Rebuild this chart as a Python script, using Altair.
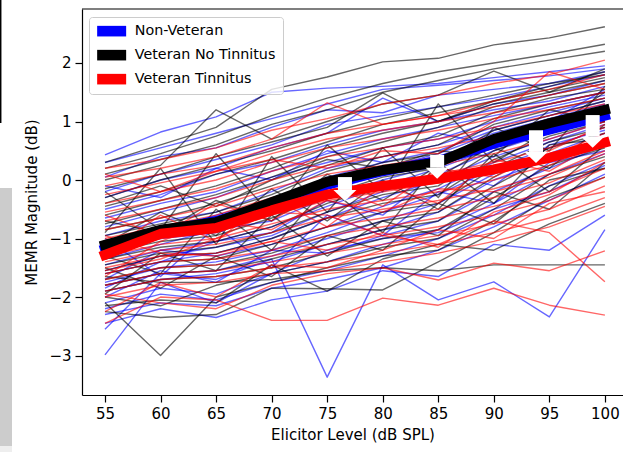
import altair as alt
import pandas as pd

levels = [55, 60, 65, 70, 75, 80, 85, 90, 95, 100]
groups = ["Non-Veteran", "Veteran No Tinnitus", "Veteran Tinnitus"]
colors = ["#0000ff", "#000000", "#ff0000"]

non_veteran = [
    [0.43, 0.82, 1.08, 1.50, 1.57, 1.60, 1.65, 1.75, 1.85, 1.95],
    [0.30, 0.55, 0.80, 1.05, 1.30, 1.55, 1.62, 1.70, 1.78, 1.90],
    [0.05, 0.40, 0.55, 0.90, 1.20, 1.15, 1.45, 1.55, 1.65, 1.85],
    [-0.20, 0.10, 0.35, 0.60, 0.95, 1.10, 1.25, 1.40, 1.60, 1.80],
    [-0.30, 0.00, 0.20, 0.55, 0.80, 1.40, 1.00, 1.30, 1.45, 1.70],
    [-0.50, -0.25, 0.10, 0.30, 0.60, 0.85, 1.00, 1.20, 1.35, 1.60],
    [-0.65, -0.40, -0.20, 0.15, 0.45, 0.70, 0.90, 1.10, 1.30, 1.50],
    [-0.80, -0.55, -0.30, 0.05, 0.30, 0.55, 0.70, 1.00, 1.25, 1.45],
    [-0.95, -0.70, -0.55, -0.20, 0.20, 0.40, 0.60, 0.90, 1.15, 1.40],
    [-1.05, -0.90, -0.60, -0.35, 0.05, 0.30, 0.50, 0.85, 1.10, 1.35],
    [-1.15, -0.85, -0.75, -0.45, -0.10, 0.20, 0.45, 0.80, 1.05, 1.30],
    [-1.25, -1.00, -0.90, -0.55, -0.20, 0.10, 0.35, 0.75, 1.00, 1.20],
    [-1.35, -1.10, -0.85, -0.70, -0.30, 0.00, 0.25, 0.65, 0.95, 1.15],
    [-1.45, -1.20, -1.05, -0.80, -0.45, -0.10, 0.20, 0.55, 0.85, 1.10],
    [-1.55, -1.30, -1.15, -0.95, -0.55, -0.20, 0.10, 0.50, 0.80, 1.05],
    [-1.60, -1.40, -1.25, -1.00, -0.65, -0.30, 0.00, 0.40, 0.70, 1.00],
    [-1.70, -1.20, -1.30, -1.10, -0.80, -0.45, -0.15, 0.30, 0.65, 0.95],
    [-1.75, -1.50, -1.40, -1.20, -0.90, -0.55, -0.25, 0.20, 0.55, 0.90],
    [-1.80, -1.60, -1.55, -1.30, -1.00, -0.70, -0.40, 0.10, 0.45, 0.80],
    [-1.90, -1.70, -1.60, -1.40, -1.10, -0.85, -0.55, 0.00, 0.35, 0.70],
    [-2.00, -1.55, -1.75, -1.20, -1.25, -0.95, -0.70, -0.20, 0.20, 0.60],
    [-2.10, -1.85, -1.95, -1.60, -1.40, -1.10, -0.85, -0.40, 0.10, 0.45],
    [-2.20, -1.95, -2.05, -1.75, -1.55, -1.30, -1.00, -0.60, -0.10, 0.30],
    [-2.30, -2.10, -2.15, -1.85, -1.70, -1.50, -1.20, -0.80, -0.35, 0.10],
    [-2.55, -1.60, -1.70, -1.35, -3.37, -1.45, -2.05, -1.74, -2.34, -0.85],
    [-2.99, -1.75, -2.10, -1.60, -1.20, -1.00, -0.90, -0.50, -0.20, 0.25],
    [-0.10, -0.30, 0.20, 0.00, 0.50, 0.30, 0.80, 0.60, 1.00, 1.55],
    [-1.00, -1.65, -0.80, -1.50, -0.60, -0.95, -0.20, -0.40, 0.30, 0.50],
    [-1.85, -1.40, -1.05, -0.90, -0.35, -0.60, 0.15, -0.10, 0.60, 0.85],
    [-2.45, -2.20, -2.35, -2.05, -1.90, -1.55, -1.65, -1.10, -1.20, -0.60],
]

veteran_no_tinnitus = [
    [0.30, 0.60, 0.90, 1.55, 1.76, 2.02, 2.08, 2.31, 2.43, 2.62],
    [0.20, 0.45, 0.75, 1.10, 1.40, 1.65, 1.85, 2.00, 2.15, 2.32],
    [0.10, 0.35, 0.60, 0.95, 1.20, 1.50, 1.70, 1.90, 2.05, 2.20],
    [0.00, 0.25, 1.20, 0.70, 1.00, 1.30, 1.45, 1.86, 1.50, 1.90],
    [-0.15, 0.10, 0.40, 0.65, 0.90, 1.49, 1.00, 1.35, 1.60, 1.85],
    [-0.30, 0.00, 0.25, 0.50, 0.80, 1.05, 1.25, 1.45, 1.65, 1.80],
    [-0.45, -0.20, 0.10, 0.35, 0.65, 0.95, 1.15, 1.35, 1.55, 1.75],
    [-0.60, -0.35, -0.10, 0.20, 0.55, 0.80, 1.00, 1.30, 1.50, 1.70],
    [-0.75, -0.50, -0.25, 0.05, 0.40, 0.65, 0.90, 1.25, 1.45, 1.65],
    [-0.85, -0.65, -0.40, -0.10, 0.25, 0.55, 0.75, 1.15, 1.40, 1.55],
    [-0.95, -0.75, -0.55, -0.25, 0.15, 0.40, 0.60, 1.05, 1.30, 1.50],
    [-1.05, -0.85, -0.70, -0.40, 0.00, 0.30, 0.45, 0.95, 1.20, 1.40],
    [-1.15, -0.95, -0.85, -0.55, -0.15, 0.15, 0.30, 0.85, 1.10, 1.35],
    [-1.25, -1.05, -0.95, -0.65, -0.25, 0.05, 0.20, 0.75, 1.05, 1.25],
    [-1.35, -1.15, -1.05, -0.80, -0.40, -0.10, 0.05, 0.60, 0.95, 1.20],
    [-1.45, -1.25, -1.15, -0.90, -0.55, -0.25, -0.10, 0.50, 0.85, 1.10],
    [-1.55, -1.30, -1.25, -1.00, -0.65, -0.40, -0.25, 0.35, 0.75, 1.00],
    [-1.60, -1.40, -1.35, -1.10, -0.80, -0.55, -0.40, 0.20, 0.65, 0.90],
    [-1.70, -1.50, -1.45, -1.25, -0.95, -0.70, -0.55, 0.05, 0.55, 0.80],
    [-1.80, -1.60, -1.55, -1.35, -1.10, -0.85, -0.70, -0.10, 0.40, 0.70],
    [-1.90, -1.70, -1.65, -1.50, -1.25, -1.00, -0.85, -0.30, 0.25, 0.55],
    [-2.00, -2.15, -1.80, -1.60, -1.40, -1.15, -1.00, -0.50, 0.10, 0.40],
    [-2.10, -3.00, -2.00, -1.75, -1.50, -1.30, -1.20, -0.70, -0.10, 0.20],
    [-2.25, -2.35, -2.30, -1.85, -1.86, -1.88, -1.40, -0.90, -0.30, 0.05],
    [-1.65, -1.75, -1.75, -1.70, -1.55, -1.50, -1.55, -1.45, -1.45, -1.45],
    [-0.90, 0.20, -1.10, 0.40, -0.55, 0.55, -0.30, 0.90, 0.50, 1.60],
    [-0.20, -0.85, 0.45, -0.60, 0.60, -0.20, 1.30, 0.30, 0.85, 1.50],
    [-1.95, -1.25, -1.55, -0.60, -1.30, -0.70, -0.95, -0.20, -0.50, 0.30],
    [-0.40, -0.10, -0.45, 0.00, 0.35, 0.20, 0.50, 0.40, 1.20, 1.00],
    [-1.30, -1.60, -0.50, -1.20, -0.10, -0.90, 0.30, -0.40, 0.60, 0.70],
    [-2.15, -2.05, -2.10, -1.45, -1.90, -1.35, -1.10, -1.20, -0.75, -0.40],
    [-0.70, -0.90, -0.35, -0.70, 0.10, -0.35, 0.25, 0.55, 0.20, 0.95],
    [-1.10, -0.55, -0.95, -0.15, -0.70, 0.00, -0.50, 0.45, -0.20, 0.60],
    [-1.50, -1.85, -1.30, -1.65, -0.95, -1.20, -0.40, -0.75, 0.00, 0.20],
]

veteran_tinnitus = [
    [0.20, 0.35, 0.55, 0.85, 1.05, 1.30, 1.45, 1.65, 1.80, 2.05],
    [0.05, 0.20, 0.40, 0.70, 1.32, 0.95, 1.10, 1.35, 1.55, 1.80],
    [-0.10, 0.10, 0.25, 0.55, 0.80, 0.95, 1.10, 1.25, 1.45, 1.65],
    [-0.25, -0.05, 0.15, 0.45, 0.70, 0.85, 1.00, 1.15, 1.30, 1.50],
    [-0.40, -0.20, 0.00, 0.30, 0.55, 0.70, 0.85, 1.05, 1.20, 1.40],
    [-0.55, -0.35, -0.15, 0.15, 0.40, 0.55, 0.70, 0.90, 1.10, 1.30],
    [-0.70, -0.50, -0.30, 0.00, 0.25, 0.40, 0.55, 0.75, 1.00, 1.20],
    [-0.85, -0.65, -0.45, -0.15, 0.10, 0.25, 0.40, 0.60, 0.85, 1.10],
    [-1.00, -0.80, -0.60, -0.30, -0.05, 0.10, 0.25, 0.45, 0.70, 1.00],
    [-1.10, -0.90, -0.75, -0.45, -0.20, -0.05, 0.10, 0.30, 0.55, 0.90],
    [-1.20, -1.00, -0.90, -0.60, -0.35, -0.20, -0.05, 0.15, 0.40, 0.80],
    [-1.30, -1.10, -1.00, -0.75, -0.50, -0.35, -0.20, 0.00, 0.25, 0.65],
    [-1.40, -1.20, -1.10, -0.90, -0.65, -0.50, -0.35, -0.15, 0.10, 0.50],
    [-1.50, -1.30, -1.25, -1.05, -0.80, -0.65, -0.50, -0.30, -0.05, 0.35],
    [-1.60, -1.40, -1.35, -1.20, -0.95, -0.80, -0.65, -0.45, -0.20, 0.20],
    [-1.70, -1.50, -1.45, -1.30, -1.10, -0.95, -0.80, -0.60, -0.35, 0.05],
    [-1.80, -1.60, -1.55, -1.40, -1.25, -1.10, -0.95, -0.75, -0.50, -0.10],
    [-1.90, -1.70, -1.65, -1.50, -1.40, -1.25, -1.10, -0.90, -0.65, -0.30],
    [-2.00, -1.80, -1.75, -1.60, -1.55, -1.40, -1.25, -1.05, -0.80, -0.45],
    [-2.45, -2.00, -2.05, -2.40, -2.40, -2.02, -2.14, -1.85, -2.14, -2.31],
    [-1.95, -2.10, -2.20, -1.80, -1.60, -1.50, -1.71, -1.42, -1.55, -1.21],
    [-1.55, -1.35, -1.00, -0.55, -0.60, -0.95, -1.10, -0.70, -0.90, -1.74],
    [-0.60, -0.95, -0.40, -0.70, -0.10, -0.45, 0.20, 0.05, 0.50, 0.95],
    [-1.25, -0.60, -1.05, -0.30, -0.80, -0.10, -0.40, 0.35, 0.15, 0.70],
    [-2.25, -1.75, -2.00, -1.45, -1.50, -1.20, -0.85, -1.00, -0.40, -0.20],
    [0.10, -0.20, 0.15, 0.35, 0.20, 0.50, 0.45, 1.00, 1.85, 1.55],
    [-0.95, -1.25, -1.30, -1.05, -1.20, -0.90, -1.15, -0.55, -0.25, 0.30],
    [-1.65, -1.05, -0.70, -0.85, -0.35, -0.55, -0.15, -0.20, 0.05, 0.45],
]

mean_non_veteran = [-1.18, -0.88, -0.70, -0.43, -0.08, 0.15, 0.33, 0.62, 0.86, 1.10]
mean_veteran_no_tinnitus = [-1.11, -0.85, -0.72, -0.38, -0.03, 0.17, 0.30, 0.70, 0.97, 1.20]
mean_veteran_tinnitus = [-1.28, -0.92, -0.82, -0.52, -0.25, -0.10, 0.02, 0.18, 0.38, 0.64]

arrow_level = [76.6, 84.9, 93.8, 98.9]
arrow_top = [0.05, 0.43, 0.85, 1.11]
arrow_base = [-0.17, 0.21, 0.48, 0.74]
arrow_head = [-0.264, 0.116, 0.386, 0.646]

# ---- build tables ----
rows = []
for gname, lines, prefix in [
    (groups[0], non_veteran, "B"),
    (groups[1], veteran_no_tinnitus, "K"),
    (groups[2], veteran_tinnitus, "R"),
]:
    for i, vals in enumerate(lines):
        for lv, v in zip(levels, vals):
            rows.append({"level": lv, "value": v, "group": gname, "id": f"{prefix}{i:02d}"})
indiv = pd.DataFrame(rows)

mrows = []
for gname, vals in zip(groups, [mean_non_veteran, mean_veteran_no_tinnitus, mean_veteran_tinnitus]):
    for lv, v in zip(levels, vals):
        mrows.append({"level": lv, "value": v, "group": gname})
means = pd.DataFrame(mrows)

arrows = pd.DataFrame({"level": arrow_level, "top": arrow_top, "base": arrow_base, "head": arrow_head})

W, H = 541, 386
FONT = "DejaVu Sans"
FS = 15

xscale = alt.Scale(domain=[52.93, 101.63], nice=False, zero=False)
yscale = alt.Scale(domain=[-3.675, 2.923], nice=False, zero=False)
cscale = alt.Scale(domain=groups, range=colors)

# 29 x 10.6 px rectangle when the symbol size is 100 (scale = sqrt(100)/2 = 5)
RECT = "M-2.9,-1.06L2.9,-1.06L2.9,1.06L-2.9,1.06Z"

legend = alt.Legend(
    title=None, orient="none", legendX=7, legendY=8,
    symbolType=RECT, symbolSize=100, symbolStrokeWidth=0, symbolOpacity=1,
    labelFontSize=14.3, labelFont=FONT, labelColor="black",
    padding=7, rowPadding=9, symbolOffset=8.5, labelOffset=16,
    fillColor="rgba(255,255,255,0.8)", strokeColor="#cccccc", cornerRadius=3,
)

# filled points pushed out of the clipped plot area; they only provide the legend
legend_layer = alt.Chart(means).transform_calculate(
    off="datum.value + 100"
).mark_point(filled=True, opacity=1, clip=True, shape=RECT).encode(
    x=alt.X("level:Q", scale=xscale,
            axis=alt.Axis(values=levels, title="Elicitor Level (dB SPL)", format="d")),
    y=alt.Y("off:Q", scale=yscale,
            axis=alt.Axis(values=[-3, -2, -1, 0, 1, 2], title="MEMR Magnitude (dB)", format="d")),
    color=alt.Color("group:N", scale=cscale, legend=legend),
)

lines_layer = alt.Chart(indiv).mark_line(strokeWidth=1.4, opacity=0.6, strokeJoin="round").encode(
    x=alt.X("level:Q", scale=xscale),
    y=alt.Y("value:Q", scale=yscale),
    color=alt.Color("group:N", scale=cscale, legend=None),
    detail="id:N",
)

mean_layer = alt.Chart(means).mark_line(strokeWidth=10, strokeCap="square", strokeJoin="round").encode(
    x=alt.X("level:Q", scale=xscale),
    y=alt.Y("value:Q", scale=yscale),
    color=alt.Color("group:N", scale=cscale, legend=None),
)

shafts = alt.Chart(arrows).mark_rule(color="white", strokeWidth=14, strokeCap="butt").encode(
    x=alt.X("level:Q", scale=xscale), y=alt.Y("top:Q", scale=yscale), y2="base:Q"
)
heads = alt.Chart(arrows).mark_point(
    shape="M-1,-0.478L1,-0.478L0,0.478Z", filled=True, fill="white", opacity=1,
    size=529, strokeWidth=0
).encode(x=alt.X("level:Q", scale=xscale), y=alt.Y("head:Q", scale=yscale))

one = pd.DataFrame({"a": [0]})
top_border = alt.Chart(one).mark_rule(color="black", strokeWidth=1.2).encode(
    x=alt.value(0), x2=alt.value(W), y=alt.value(0)
)
left_line = alt.Chart(one).mark_rule(color="black", strokeWidth=1.5).encode(
    x=alt.value(-81.3), y=alt.value(-9), y2=alt.value(114)
)
gray_box = alt.Chart(one).mark_rect(color="#cccccc").encode(
    x=alt.value(-82), x2=alt.value(-70), y=alt.value(179), y2=alt.value(437)
)
gray_strip = alt.Chart(one).mark_rect(color="#eeeeee").encode(
    x=alt.value(-82), x2=alt.value(-70), y=alt.value(437), y2=alt.value(443)
)

chart = alt.layer(
    legend_layer, gray_box, gray_strip, left_line, lines_layer, mean_layer, shafts, heads, top_border
).resolve_legend(color="independent").properties(
    width=W, height=H,
    autosize=alt.AutoSizeParams(type="none"),
    padding={"left": 82, "top": 9, "right": 0, "bottom": 57},
).configure_view(stroke=None).configure_axis(
    grid=False, domainColor="black", domainWidth=1.2, tickColor="black", tickWidth=1.2,
    tickSize=7, labelFont=FONT, titleFont=FONT, labelFontSize=FS, titleFontSize=FS,
    labelColor="black", titleColor="black", titleFontWeight="normal", labelPadding=4,
).configure_axisX(titlePadding=6).configure_axisY(titlePadding=9)

chart.save("out.html", embed_options={"renderer": "svg", "actions": False})
